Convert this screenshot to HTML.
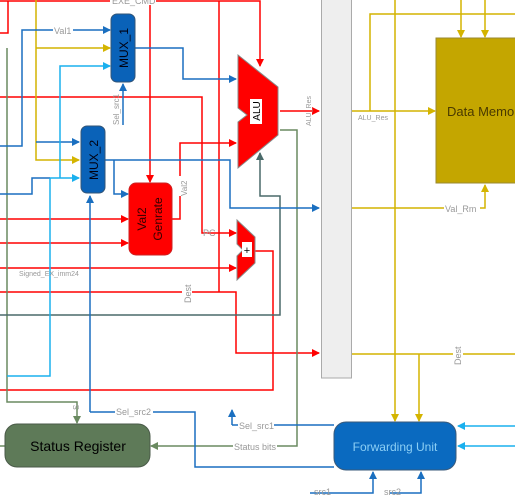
<!DOCTYPE html>
<html><head><meta charset="utf-8"><style>
html,body{margin:0;padding:0;background:#fff;}
svg{display:block;}
text{font-family:"Liberation Sans",sans-serif;}
</style></head><body>
<svg width="515" height="495" viewBox="0 0 515 495" xmlns="http://www.w3.org/2000/svg">
<defs>
<marker id="ar" markerWidth="8" markerHeight="8" refX="7" refY="4" orient="auto" markerUnits="userSpaceOnUse"><path d="M0,0 L8,4 L0,8 z" fill="#f00"/></marker>
<marker id="ab" markerWidth="8" markerHeight="8" refX="7" refY="4" orient="auto" markerUnits="userSpaceOnUse"><path d="M0,0 L8,4 L0,8 z" fill="#1a6fc0"/></marker>
<marker id="al" markerWidth="8" markerHeight="8" refX="7" refY="4" orient="auto" markerUnits="userSpaceOnUse"><path d="M0,0 L8,4 L0,8 z" fill="#1ab0ee"/></marker>
<marker id="ay" markerWidth="8" markerHeight="8" refX="7" refY="4" orient="auto" markerUnits="userSpaceOnUse"><path d="M0,0 L8,4 L0,8 z" fill="#d4b400"/></marker>
<marker id="ag" markerWidth="8" markerHeight="8" refX="7" refY="4" orient="auto" markerUnits="userSpaceOnUse"><path d="M0,0 L8,4 L0,8 z" fill="#6a8a60"/></marker>
<marker id="as" markerWidth="8" markerHeight="8" refX="7" refY="4" orient="auto" markerUnits="userSpaceOnUse"><path d="M0,0 L8,4 L0,8 z" fill="#4a6a6a"/></marker>
</defs>
<g fill="none" stroke-width="1.5">
<!-- red -->
<g stroke="#f00">
<polyline points="0,1 260,1 260,66" marker-end="url(#ar)"/>
<polyline points="8,1 8,33 0,33"/>
<polyline points="150,1 150,182" marker-end="url(#ar)"/>
<polyline points="219,1 219,292"/>
<polyline points="0,97 202,97 202,233 236,233" marker-end="url(#ar)"/>
<polyline points="172,219 180,219 180,143 236,143" marker-end="url(#ar)"/>
<polyline points="0,219 128,219" marker-end="url(#ar)"/>
<polyline points="0,243 128,243" marker-end="url(#ar)"/>
<polyline points="0,268 236,268" marker-end="url(#ar)"/>
<polyline points="0,292 236,292 236,353 319,353" marker-end="url(#ar)"/>
<polyline points="255,251 273,251 273,390 0,390"/>
<polyline points="280,111 319,111" marker-end="url(#ar)"/>
</g>
<!-- green -->
<g stroke="#6a8a60">
<polyline points="7,48 7,402 77,402 77,423" marker-end="url(#ag)"/>
<polyline points="280,130 297,130 297,446 151,446" marker-end="url(#ag)"/>
<polyline points="0,446 5,446"/>
</g>
<!-- slate -->
<polyline stroke="#4a6a6a" points="0,315 280,315 280,196 260,196 260,153" marker-end="url(#as)"/>
<!-- yellow -->
<g stroke="#d4b400">
<polyline points="36,0 36,160 79,160" marker-end="url(#ay)"/>
<polyline points="36,48 110,48" marker-end="url(#ay)"/>
<polyline points="352,111 435,111" marker-end="url(#ay)"/>
<polyline points="370,111 370,14 515,14"/>
<polyline points="395,0 395,421" marker-end="url(#ay)"/>
<polyline points="352,354 515,354"/>
<polyline points="419,354 419,421" marker-end="url(#ay)"/>
<polyline points="352,208 485,208 485,185" marker-end="url(#ay)"/>
<polyline points="461,0 461,37" marker-end="url(#ay)"/>
<polyline points="485,0 485,37" marker-end="url(#ay)"/>
</g>
<!-- dark blue -->
<g stroke="#1a6fc0">
<polyline points="0,146 22,146 22,30 110,30" marker-end="url(#ab)"/>
<polyline points="36,142 79,142" marker-end="url(#ab)"/>
<polyline points="0,194 32,194 32,178 50,178"/>
<polyline points="135,48 183,48 183,79 236,79" marker-end="url(#ab)"/>
<polyline points="105,160 230,160 230,208 319,208" marker-end="url(#ab)"/>
<polyline points="114,160 114,194 128,194" marker-end="url(#ab)"/>
<polyline points="123,125 123,84" marker-end="url(#ab)"/>
<polyline points="90,412 90,196" marker-end="url(#ab)"/>
<polyline points="90,412 195,412 195,467 334,467"/>
<polyline points="232,425 334,425"/>
<polyline points="232,425 232,410" marker-end="url(#ab)"/>
<polyline points="310,493 373,493 373,472" marker-end="url(#ab)"/>
<polyline points="390,493 421,493 421,472" marker-end="url(#ab)"/>
</g>
<!-- light blue -->
<g stroke="#1ab0ee">
<polyline points="60,178 60,66 110,66" marker-end="url(#al)"/>
<polyline points="50,178 79,178" marker-end="url(#al)"/>
<polyline points="50,178 50,376 7,376"/>
<polyline points="515,426 458,426" marker-end="url(#al)"/>
<polyline points="515,446 458,446" marker-end="url(#al)"/>
</g>
</g>
<!-- pipeline register -->
<rect x="321.5" y="-1" width="30" height="379" fill="#eee" stroke="#aaa"/>
<!-- data memory -->
<rect x="436" y="38" width="82" height="145" fill="#c4a600" stroke="#9a8a30"/>
<text x="447" y="116" font-size="13" fill="#4a3a00">Data Memory</text>
<!-- MUX -->
<rect x="111" y="14" width="24" height="68" rx="6" fill="#0a62b8" stroke="#357"/>
<text transform="translate(128,48) rotate(-90)" font-size="12" fill="#001" text-anchor="middle">MUX_1</text>
<rect x="81" y="126" width="24" height="67" rx="6" fill="#0a62b8" stroke="#357"/>
<text transform="translate(98,160) rotate(-90)" font-size="12" fill="#001" text-anchor="middle">MUX_2</text>
<!-- Val2 -->
<rect x="129" y="183" width="43" height="72" rx="7" fill="#f00" stroke="#c22"/>
<text transform="translate(146,219) rotate(-90)" font-size="12" fill="#300" text-anchor="middle">Val2</text>
<text transform="translate(162,219) rotate(-90)" font-size="12" fill="#300" text-anchor="middle">Genrate</text>
<!-- ALU -->
<path d="M238,55 L278,87 L278,135 L238,168 L238,122 L247,115 L238,108 Z" fill="#f00" stroke="#888" stroke-width="1"/>
<rect x="250" y="99" width="12" height="25" fill="#fff"/>
<text transform="translate(260,111) rotate(-90)" font-size="10" fill="#000" text-anchor="middle">ALU</text>
<!-- adder -->
<path d="M237,220 L255,237 L255,263 L237,280 L237,256 L243,250 L237,244 Z" fill="#f00" stroke="#888" stroke-width="1"/>
<rect x="242" y="242" width="10" height="15" fill="#fff"/>
<text x="247" y="254" font-size="11" fill="#000" text-anchor="middle">+</text>
<!-- status register -->
<rect x="5" y="424" width="145" height="43" rx="12" fill="#5e7a58" stroke="#4a5a48"/>
<text x="78" y="451" font-size="14" fill="#000" text-anchor="middle">Status Register</text>
<!-- forwarding -->
<rect x="334" y="422" width="122" height="48" rx="12" fill="#0a6ac0" stroke="#3a5a7a"/>
<text x="395" y="451" font-size="12" fill="#8ccff5" text-anchor="middle">Forwarding Unit</text>
<!-- labels -->
<g font-size="9" fill="#999">
<rect x="110" y="0" width="46" height="5" fill="#fff"/>
<text x="112" y="4">EXE_CMD</text>
<rect x="53" y="25" width="20" height="10" fill="#fff"/>
<text x="54" y="34">Val1</text>
<text transform="translate(119,125) rotate(-90)" font-size="8">Sel_src1</text>
<rect x="179" y="176" width="10" height="20" fill="#fff"/>
<text transform="translate(187,196) rotate(-90)" font-size="8">Val2</text>
<text x="203" y="236" font-size="9">PC</text>
<text x="19" y="276" font-size="7">Signed_EX_imm24</text>
<rect x="182" y="280" width="10" height="24" fill="#fff"/>
<text transform="translate(191,303) rotate(-90)" font-size="9">Dest</text>
<text transform="translate(311,126) rotate(-90)" font-size="7">ALU_Res</text>
<text x="358" y="120" font-size="7">ALU_Res</text>
<rect x="444" y="203" width="36" height="10" fill="#fff"/>
<text x="445" y="212">Val_Rm</text>
<rect x="453" y="342" width="10" height="24" fill="#fff"/>
<text transform="translate(461,365) rotate(-90)" font-size="9">Dest</text>
<text transform="translate(79,410) rotate(-90)" font-size="8">S</text>
<rect x="115" y="407" width="38" height="10" fill="#fff"/>
<text x="116" y="415">Sel_src2</text>
<rect x="238" y="420" width="36" height="10" fill="#fff"/>
<text x="239" y="429">Sel_src1</text>
<rect x="233" y="441" width="44" height="10" fill="#fff"/>
<text x="234" y="450">Status bits</text>
<text x="314" y="495">src1</text>
<text x="384" y="495">src2</text>
</g>
</svg>
</body></html>
